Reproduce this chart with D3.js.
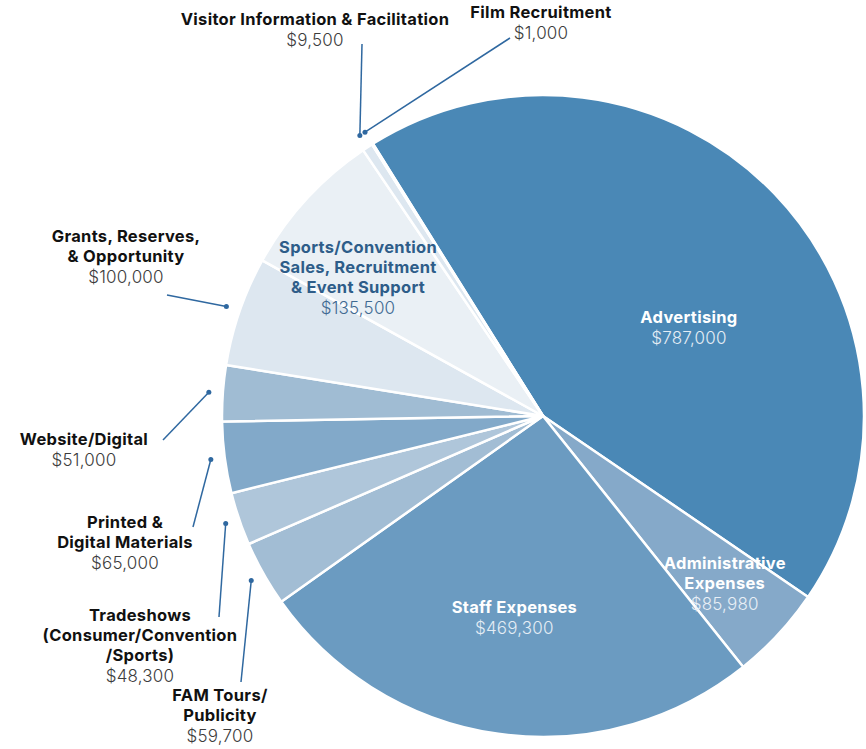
<!DOCTYPE html>
<html lang="en">
<head>
    <meta charset="UTF-8" />
    <title>Budget Pie</title>
    <script src="https://d3js.org/d3.v7.min.js"></script>
    <style>
        * { margin: 0; padding: 0; box-sizing: border-box; }
        body { background: #fff; font-family: Inter, "Open Sans", sans-serif; }
        svg { display: block; }
        .name { font-weight: 700; fill: #111; font-size: 16.5px; letter-spacing: 0.3px; }
        .amt { font-weight: 300; fill: #3c3c3c; font-size: 17px; letter-spacing: 0.2px; }
    </style>
</head>
<body>
<svg width="866" height="749"></svg>
<script>
    // Categories in clockwise order, starting with Advertising
    var categories = [
        "Advertising", "Administrative Expenses", "Staff Expenses", "FAM Tours/Publicity",
        "Tradeshows", "Printed & Digital Materials", "Website/Digital",
        "Grants, Reserves, & Opportunity", "Sports/Convention Sales", "Visitor Information & Facilitation",
        "Film Recruitment"
    ];
    var amounts = [787000, 85980, 469300, 59700, 48300, 65000, 51000, 100000, 135500, 9500, 1000];
    var sliceColors = ["#4a88b6", "#85a9c9", "#6b9bc1", "#a2bdd4", "#afc6da", "#82a9c9",
        "#a0bcd3", "#dde7f0", "#eaf0f5", "#dde7f0", "#dde7f0"];

    // label text lines (name lines, value line)
    var labelLines = [
        ["Advertising"], ["Administrative", "Expenses"], ["Staff Expenses"], ["FAM Tours/", "Publicity"],
        ["Tradeshows", "(Consumer/Convention", "/Sports)"], ["Printed &", "Digital Materials"], ["Website/Digital"],
        ["Grants, Reserves,", "& Opportunity"], ["Sports/Convention", "Sales, Recruitment", "& Event Support"],
        ["Visitor Information & Facilitation"], ["Film Recruitment"]
    ];

    var width = 866, height = 749;
    var cx = 543, cy = 416, radius = 321;
    var start = -32 * Math.PI / 180;
    var fmt = d3.format("$,");
    var deg = Math.PI / 180;

    var svg = d3.select("svg");
    var g = svg.append("g").attr("transform", "translate(" + cx + "," + cy + ")");

    var data = categories.map(function(c, i) { return { name: c, value: amounts[i], i: i }; });

    var pie = d3.pie()
        .sort(null)
        .value(function(d) { return d.value; })
        .startAngle(start)
        .endAngle(start + 2 * Math.PI);

    var arcs = pie(data);
    var arc = d3.arc().innerRadius(0).outerRadius(radius);

    g.selectAll("path.slice")
        .data(arcs)
        .enter()
        .append("path")
        .attr("class", "slice")
        .attr("d", arc)
        .attr("fill", function(d) { return sliceColors[d.index]; })
        .attr("stroke", "#fff")
        .attr("stroke-width", 2.5)
        .attr("stroke-linejoin", "round");

    function polar(angle, r) {
        return [cx + r * Math.sin(angle), cy - r * Math.cos(angle)];
    }
    function mid(d) { return (d.startAngle + d.endAngle) / 2; }

    // labels inside the slices: radius from centre and angle nudge
    var inside = {
        0: { r: 170, off: 13, name: "#fff", amt: "#e4edf5" },
        1: { r: 248, off: 0, name: "#fff", amt: "#e8eff6" },
        2: { r: 205, off: 0, name: "#fff", amt: "#e4edf5" },
        8: { r: 230, off: -6, name: "#2e5d89", amt: "#3f6a92" }
    };

    // labels outside: top line of text block and start of the leader line
    var outside = {
        3: { x: 220, y: 701, lx: 241, ly: 682 },
        4: { x: 140, y: 621, lx: 219, ly: 617 },
        5: { x: 125, y: 528, lx: 193, ly: 527 },
        6: { x: 84, y: 445, lx: 163, ly: 440 },
        7: { x: 126, y: 242, lx: 167, ly: 295 },
        9: { x: 315, y: 25, lx: 362, ly: 44 },
        10: { x: 541, y: 18, lx: 510, ly: 38 }
    };

    var lineH = 20;

    function drawBlock(x, y, lines, value, nameColor, amtColor) {
        var t = svg.append("text").attr("text-anchor", "middle");
        lines.forEach(function(s, k) {
            t.append("tspan").attr("class", "name").attr("x", x).attr("y", y + k * lineH)
                .style("fill", nameColor).text(s);
        });
        t.append("tspan").attr("class", "amt").attr("x", x).attr("y", y + lines.length * lineH + 1)
            .style("fill", amtColor).text(fmt(value));
    }

    arcs.forEach(function(d) {
        var i = d.index;
        var lines = labelLines[i];
        if (inside[i]) {
            var p = polar(mid(d) + inside[i].off * deg, inside[i].r);
            var h = (lines.length + 1) * lineH;
            drawBlock(p[0], p[1] - h / 2 + 14, lines, amounts[i], inside[i].name, inside[i].amt);
        } else {
            var o = outside[i];
            drawBlock(o.x, o.y, lines, amounts[i], "#111", "#3c3c3c");
            var end = polar(mid(d), radius + 14);
            svg.append("line")
                .attr("x1", o.lx).attr("y1", o.ly)
                .attr("x2", end[0]).attr("y2", end[1])
                .attr("stroke", "#2f68a0").attr("stroke-width", 1.5);
            svg.append("circle")
                .attr("cx", end[0]).attr("cy", end[1]).attr("r", 2.5)
                .attr("fill", "#2f68a0");
        }
    });
</script>
</body>
</html>
